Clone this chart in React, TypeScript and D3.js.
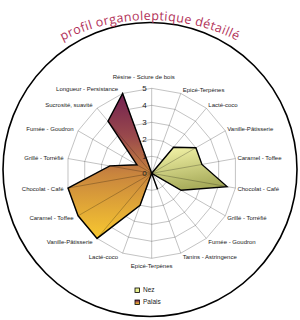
import React from "react";
import * as d3 from "d3";

// axes of the wheel, clockwise from the top
const axes = [
  "Résine - Sciure de bois",
  "Epicé-Terpènes",
  "Lacté-coco",
  "Vanille-Pâtisserie",
  "Caramel - Toffee",
  "Chocolat - Café",
  "Grillé - Torréfié",
  "Fumée - Goudron",
  "Tanins - Astringence",
  "Epicé-Terpènes",
  "Lacté-coco",
  "Vanille-Pâtisserie",
  "Caramel - Toffee",
  "Chocolat - Café",
  "Grillé - Torréfié",
  "Fumée - Goudron",
  "Sucrosité, suavité",
  "Longueur - Persistance",
];
const nez = [0, 0, 2, 3, 3, 4.5, 2, 0, 0, 0, 0, 0, 0, 0, 0, 0, 0, 0];
const palais = [0, 0, 0, 0, 0, 0, 0, 0, 1, 0, 2, 5, 5, 5, 2.5, 1, 4, 5];
const ticks = [0, 1, 2, 3, 4, 5];
const seriesNames = ["Nez", "Palais"];
const title = "profil organoleptique détaillé";

const cx = 151.7;
const cy = 173.3;
const radius = 85;

export default function App() {
  const r = d3.scaleLinear().domain([0, 5]).range([0, radius]);
  const step = (2 * Math.PI) / axes.length;
  const angle = (i: number) => i * step;
  const px = (i: number, v: number) => r(v) * Math.sin(angle(i));
  const py = (i: number, v: number) => -r(v) * Math.cos(angle(i));

  const radar = d3
    .lineRadial<number>()
    .angle((d, i) => angle(i))
    .radius((d) => r(d))
    .curve(d3.curveLinearClosed);

  const ring = (v: number) => radar(axes.map(() => v)) as string;

  // title arc
  const tR = 195, tcx = 150, tcy = 215, a0 = (-42 * Math.PI) / 180, a1 = (42 * Math.PI) / 180;
  const arcPath = `M ${tcx + tR * Math.sin(a0)} ${tcy - tR * Math.cos(a0)} A ${tR} ${tR} 0 0 1 ${tcx + tR * Math.sin(a1)} ${tcy - tR * Math.cos(a1)}`;

  const labelPos = (i: number) => {
    const vx = px(i, 5), vy = py(i, 5);
    const c = Math.cos(angle(i));
    if (i === 0) return { x: vx - 8, y: vy - 11, anchor: "middle" };
    if (i === axes.length / 2) return { x: vx, y: vy + 7.5, anchor: "middle" };
    if (i < axes.length / 2) return { x: vx + 2, y: vy - 4 * c, anchor: "start" };
    return { x: vx - 4.5, y: vy - 4.5 * c, anchor: "end" };
  };

  return (
    <svg width={300} height={320} style={{ position: "absolute", left: 0, top: 0, background: "#fff" }}>
      <defs>
        <linearGradient id="gNez" x1="0" y1="0" x2="0.3" y2="1">
          <stop offset="0" stopColor="#f7f7ac" />
          <stop offset="1" stopColor="#a9ad5c" />
        </linearGradient>
        <linearGradient id="gPalais" x1="0" y1="0" x2="0" y2="1">
          <stop offset="0" stopColor="#722050" />
          <stop offset="0.3" stopColor="#9a4a4c" />
          <stop offset="0.55" stopColor="#c8843e" />
          <stop offset="1" stopColor="#f8c830" />
        </linearGradient>
        <path id="titleArc" d={arcPath} />
      </defs>

      <circle cx={150} cy={169.5} r={147} fill="none" stroke="#000" strokeWidth={1.6} />

      <text fontFamily="'Open Sans', Lato, sans-serif" fontSize={12.5} letterSpacing={0.4} fill="#b23158">
        <textPath href="#titleArc" startOffset="50%" textAnchor="middle">
          {title}
        </textPath>
      </text>

      <g transform={`translate(${cx},${cy})`}>
        {ticks.slice(1).map((t) => (
          <path key={t} d={ring(t)} fill="none" stroke="#b4b4b4" strokeWidth={0.8} />
        ))}

        <path d={radar(nez) as string} fill="url(#gNez)" stroke="#000" strokeWidth={1.4} strokeLinejoin="miter" />
        <path d={radar(palais) as string} fill="url(#gPalais)" stroke="#000" strokeWidth={1.4} strokeLinejoin="miter" />

        {axes.map((a, i) => (
          <line key={i} x1={0} y1={0} x2={px(i, 5)} y2={py(i, 5)} stroke="#000" strokeOpacity={0.3} strokeWidth={0.8} />
        ))}

        {ticks.map((t) => (
          <text key={t} x={-5} y={-r(t)} dy="0.35em" textAnchor="end" fontFamily="Arial, 'Liberation Sans', sans-serif" fontSize={8} fill="#222">
            {t}
          </text>
        ))}

        {axes.map((a, i) => {
          const p = labelPos(i);
          return (
            <text key={i} x={p.x} y={p.y} dy="0.35em" textAnchor={p.anchor} fontFamily="Arial, 'Liberation Sans', sans-serif" fontSize={6} fill="#1a1a1a">
              {a}
            </text>
          );
        })}
      </g>

      <g fontFamily="Arial, 'Liberation Sans', sans-serif" fontSize={6.5} fill="#1a1a1a">
        {seriesNames.map((s, i) => (
          <g key={s} transform={`translate(135,${288 + i * 12})`}>
            <rect width={4.5} height={4.5} fill={i === 0 ? "#e6ee8c" : "url(#gPalais)"} stroke="#000" strokeWidth={0.8} />
            <text x={8} y={2.2} dy="0.35em">{s}</text>
          </g>
        ))}
      </g>
    </svg>
  );
}
